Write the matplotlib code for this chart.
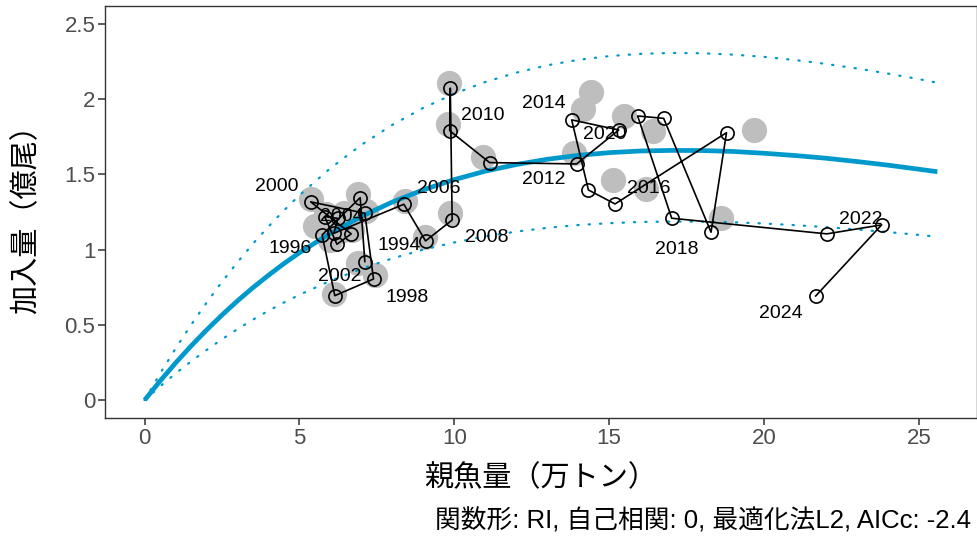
import matplotlib
matplotlib.use('Agg')
import matplotlib.pyplot as plt

plt.rcParams['font.family'] = ['Liberation Sans', 'Noto Sans CJK JP', 'DejaVu Sans']

# observed SSB (10^4 t) and recruits (10^8) by year
years = list(range(1994, 2025))
ssb = [7.11, 6.96, 5.73, 6.14, 7.39, 7.11, 5.36, 6.67, 6.21, 5.81, 6.24, 6.11,
       8.37, 9.07, 9.93, 9.87, 9.85, 11.14, 13.95, 15.31, 13.79, 14.33, 15.19,
       18.79, 18.29, 16.76, 15.92, 17.02, 22.03, 23.80, 21.67]
rec = [0.921, 1.346, 1.098, 0.694, 0.805, 1.242, 1.318, 1.105, 1.036, 1.220, 1.208, 1.109,
       1.302, 1.058, 1.197, 2.074, 1.791, 1.579, 1.570, 1.796, 1.863, 1.397, 1.304,
       1.778, 1.116, 1.873, 1.889, 1.209, 1.105, 1.165, 0.692]

# gray points
gray_ssb = [5.38, 6.90, 7.16, 5.50, 5.87, 5.97, 6.30, 6.70, 6.90, 7.43, 6.10, 6.45,
            8.40, 9.06, 9.86, 9.84, 9.79, 10.92, 13.88, 14.15, 14.42, 15.49, 16.40,
            15.11, 16.19, 19.68, 18.61]
gray_rec = [1.334, 1.373, 1.257, 1.160, 1.237, 1.063, 1.121, 1.131, 0.908, 0.831, 0.705, 1.247,
            1.324, 1.082, 1.247, 2.108, 1.837, 1.615, 1.644, 1.934, 2.050, 1.886, 1.789,
            1.460, 1.402, 1.799, 1.208]

# fitted curve and interval
curve_ssb = [0, 0.5, 1, 1.5, 2, 2.5, 3, 3.5, 4, 4.5, 5, 6, 7, 8, 9, 10, 11, 12, 13,
             14, 15, 16, 17, 18, 19, 20, 21, 22, 23, 24, 25, 25.6]
curve_mid = [0, 0.127, 0.247, 0.360, 0.466, 0.566, 0.660, 0.748, 0.830, 0.908, 0.980,
             1.109, 1.221, 1.317, 1.398, 1.466, 1.522, 1.566, 1.601, 1.627, 1.645,
             1.656, 1.660, 1.659, 1.653, 1.641, 1.626, 1.608, 1.586, 1.562, 1.535, 1.518]
curve_up = [0, 0.177, 0.343, 0.500, 0.648, 0.787, 0.917, 1.040, 1.154, 1.261, 1.362,
            1.542, 1.697, 1.830, 1.943, 2.037, 2.115, 2.177, 2.226, 2.262, 2.287,
            2.302, 2.308, 2.306, 2.297, 2.282, 2.261, 2.235, 2.205, 2.171, 2.134, 2.110]
curve_lo = [0, 0.091, 0.177, 0.257, 0.333, 0.405, 0.472, 0.535, 0.594, 0.649, 0.700,
            0.793, 0.873, 0.942, 1.000, 1.048, 1.088, 1.120, 1.145, 1.164, 1.176,
            1.184, 1.187, 1.186, 1.182, 1.174, 1.163, 1.150, 1.134, 1.117, 1.098, 1.086]

# label offsets (points) for labelled years
label_off = {1994: (25, 11.5), 1996: (-23, -9.5), 1998: (24.5, -13), 2000: (-24.5, 11),
             2002: (2, -23), 2004: (3, 1), 2006: (25, 11.5), 2008: (25, -12.7),
             2010: (24, 11.3), 2012: (-24, -11.5), 2014: (-20, 12), 2016: (24, 11.3),
             2018: (-24.5, -12.5), 2020: (-24, -13.7), 2022: (24.5, 10.6), 2024: (-25, -12.5)}

blue = '#0099CC'

fig = plt.figure(figsize=(9.78, 5.4), dpi=100)
ax = fig.add_axes([0.1074, 0.2252, 0.8916, 0.7639])

ax.plot(curve_ssb, curve_up, color=blue, lw=1.6, linestyle=(0, (0.6, 4.5)),
        dash_capstyle='round', zorder=2)
ax.plot(curve_ssb, curve_lo, color=blue, lw=1.6, linestyle=(0, (0.6, 4.5)),
        dash_capstyle='round', zorder=2)
ax.plot(curve_ssb, curve_mid, color=blue, lw=3.4, solid_capstyle='butt', zorder=2)

ax.scatter(gray_ssb, gray_rec, s=330, color='#bebebe', linewidths=0, zorder=1)
ax.plot(ssb, rec, color='black', lw=1.2, zorder=3)
ax.plot(ssb, rec, linestyle='none', marker='o', ms=9.5, mfc='none', mec='black',
        mew=1.2, zorder=4)

for yr, (dx, dy) in label_off.items():
    i = years.index(yr)
    ax.annotate(str(yr), (ssb[i], rec[i]), xytext=(dx, dy), textcoords='offset points',
                ha='center', va='center', fontsize=14, color='black', zorder=5)

ax.set_xlim(-1.28, 26.88)
ax.set_ylim(-0.122, 2.621)
ax.set_xticks([0, 5, 10, 15, 20, 25])
ax.set_xticklabels(['0', '5', '10', '15', '20', '25'])
ax.set_yticks([0, 0.5, 1, 1.5, 2, 2.5])
ax.set_yticklabels(['0', '0.5', '1', '1.5', '2', '2.5'])
ax.tick_params(axis='both', direction='out', length=5, width=1.1, color='#333333',
               labelcolor='#4d4d4d', labelsize=16, pad=2)
for s in ax.spines.values():
    s.set_color('#333333')
    s.set_linewidth(1)

ax.set_xlabel('親魚量（万トン）', fontsize=21, labelpad=11)
ax.set_ylabel('加入量（億尾）', fontsize=21, labelpad=17)

fig.text(0.993, 0.035, '関数形: RI, 自己相関: 0, 最適化法L2, AICc: -2.4',
         ha='right', va='center', fontsize=18.5)

fig.savefig('out.png', dpi=100)
